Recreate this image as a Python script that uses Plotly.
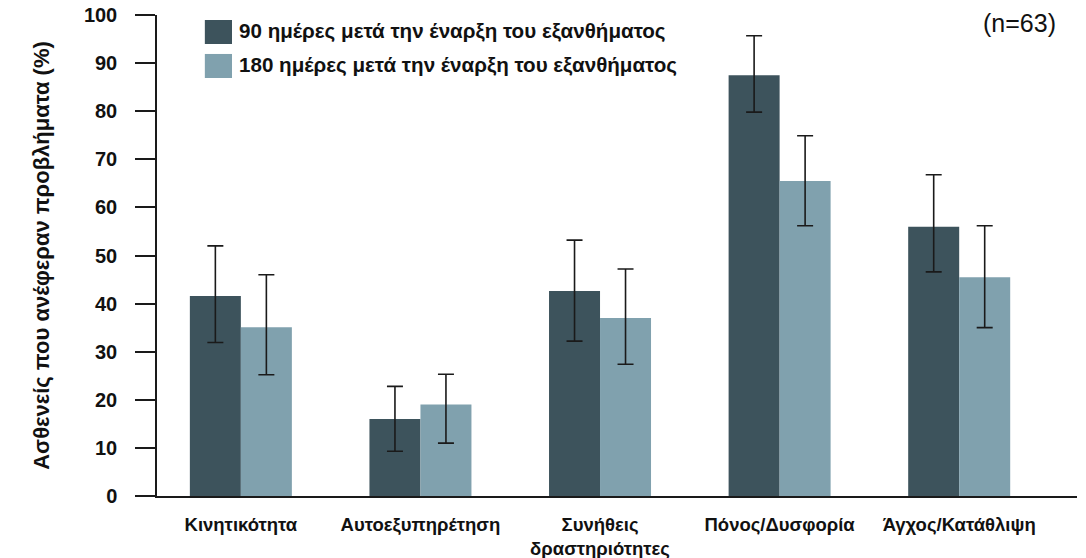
import plotly.graph_objects as go

# Categories on the x axis (line breaks are part of the label text)
categories = ["Κινητικότητα", "Αυτοεξυπηρέτηση", "Συνήθεις<br>δραστηριότητες",
              "Πόνος/Δυσφορία", "Άγχος/Κατάθλιψη"]

series_names = ["90 ημέρες μετά την έναρξη του εξανθήματος",
                "180 ημέρες μετά την έναρξη του εξανθήματος"]

# Percentage of patients reporting problems, with upper/lower interval limits
day90 = [41.6, 16.0, 42.6, 87.5, 56.0]
day90_upper = [52.0, 22.8, 53.2, 95.7, 66.8]
day90_lower = [31.9, 9.3, 32.2, 79.8, 46.6]

day180 = [35.1, 19.0, 37.0, 65.5, 45.5]
day180_upper = [46.0, 25.3, 47.2, 74.9, 56.2]
day180_lower = [25.2, 11.0, 27.4, 56.2, 35.0]

y_ticks = [0, 10, 20, 30, 40, 50, 60, 70, 80, 90, 100]

FONT = "Liberation Sans, Arial, sans-serif"
DARK = "#3d535c"
LIGHT = "#80a1ae"
colors = [DARK, LIGHT]


def err(values, upper, lower):
    return dict(type="data", symmetric=False,
                array=[u - v for u, v in zip(upper, values)],
                arrayminus=[v - l for v, l in zip(values, lower)],
                color="#1a1a1a", thickness=1.6, width=8)


fig = go.Figure()
for name, vals, up, lo, col in [
    (series_names[0], day90, day90_upper, day90_lower, DARK),
    (series_names[1], day180, day180_upper, day180_lower, LIGHT),
]:
    fig.add_trace(go.Bar(x=categories, y=vals, name=name, marker_color=col,
                         marker_line_width=0, error_y=err(vals, up, lo),
                         showlegend=False))

# Legend drawn as swatches + labels
legend_rows = [(0.9896, 0.9397, 0.9667), (0.919, 0.869, 0.896)]
for (y1, y0, yc), name, col in zip(legend_rows, series_names, colors):
    fig.add_shape(type="rect", xref="paper", yref="paper",
                  x0=0.052, x1=0.0815, y0=y0, y1=y1,
                  fillcolor=col, line_width=0)
    fig.add_annotation(xref="paper", yref="paper", x=0.087, y=yc,
                       text="<b>%s</b>" % name, showarrow=False,
                       xanchor="left", yanchor="middle",
                       font=dict(family=FONT, size=20.6, color="#111"))

fig.add_annotation(xref="paper", yref="paper", x=0.979, y=1.0,
                   text="(n=63)", showarrow=False, xanchor="right",
                   yanchor="top", yshift=8,
                   font=dict(family=FONT, size=25, color="#111"))

fig.update_layout(
    width=1086, height=558,
    margin=dict(l=157, r=9, t=15, b=62),
    paper_bgcolor="white", plot_bgcolor="white",
    barmode="group", bargap=0.432, bargroupgap=0,
    font=dict(family=FONT, color="#111"),
    xaxis=dict(type="category", range=[-0.467, 4.656], showline=True,
               linecolor="#1a1a1a", linewidth=1.5, ticks="",
               showgrid=False, tickfont=dict(family=FONT, size=18.5),
               ticklabelstandoff=11, automargin=False),
    yaxis=dict(range=[0, 100], tickvals=y_ticks,
               ticktext=["<b>%d</b>" % v for v in y_ticks],
               showline=True, linecolor="#1a1a1a", linewidth=1.5,
               ticks="outside", ticklen=20, tickwidth=1.5,
               tickcolor="#1a1a1a", showgrid=False, zeroline=False,
               tickfont=dict(family=FONT, size=20), ticklabelstandoff=14,
               automargin=False,
               title=dict(text="<b>Ασθενείς που ανέφεραν προβλήματα (%)</b>",
                          font=dict(family=FONT, size=22), standoff=28)),
)
fig.update_xaxes(ticktext=["<b>%s</b>" % c for c in categories],
                 tickvals=categories)

fig.write_html("out.html")
